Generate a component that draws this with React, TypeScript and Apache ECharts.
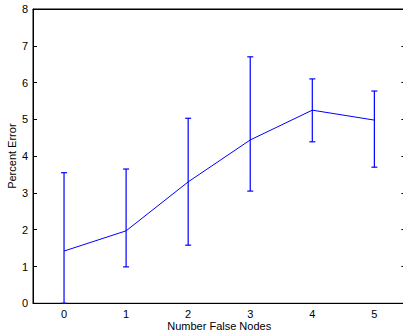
import React, { useEffect, useRef } from "react";
import * as echarts from "echarts";

const categories = ["0", "1", "2", "3", "4", "5"];
const meanError = [1.42, 1.97, 3.3, 4.44, 5.25, 4.98];
const lowerBound = [0.0, 0.99, 1.58, 3.05, 4.39, 3.7];
const upperBound = [3.55, 3.65, 5.03, 6.7, 6.1, 5.77];

const FONT = "Liberation Sans";
const BLUE = "#0000ff";

export default function App() {
  const ref = useRef<HTMLDivElement>(null);
  useEffect(() => {
    if (!ref.current) return;
    const chart = echarts.init(ref.current, null, { renderer: "svg" });
    const errData = categories.map((_, i) => [i, lowerBound[i], upperBound[i]]);
    const axisLineStyle = { lineStyle: { color: "#000", width: 1 } };
    const tickStyle = { inside: true, length: 4, lineStyle: { color: "#000" } };
    chart.setOption({
      animation: false,
      backgroundColor: "#fff",
      grid: {
        left: 33,
        top: 9,
        width: 372.4,
        height: 294.3,
        containLabel: false,
        outerBoundsMode: "none",
        show: true,
        borderColor: "#000",
        borderWidth: 1,
        backgroundColor: "transparent",
      },
      xAxis: [
        {
          type: "category",
          data: categories,
          boundaryGap: true,
          position: "bottom",
          axisLine: { show: true, onZero: false, ...axisLineStyle },
          axisTick: { ...tickStyle, alignWithLabel: true },
          axisLabel: { color: "#000", fontSize: 11, fontFamily: FONT, margin: 5 },
          name: "Number False Nodes",
          nameLocation: "middle",
          nameGap: 17,
          nameMoveOverlap: false,
          nameTextStyle: { color: "#000", fontSize: 11, fontFamily: FONT },
          splitLine: { show: false },
        },
        {
          type: "category",
          data: categories,
          boundaryGap: true,
          position: "top",
          axisLine: { show: true, onZero: false, ...axisLineStyle },
          axisTick: { ...tickStyle, alignWithLabel: true },
          axisLabel: { show: false },
          splitLine: { show: false },
        },
      ],
      yAxis: [
        {
          type: "value",
          min: 0,
          max: 8,
          interval: 1,
          position: "left",
          axisLine: { show: true, onZero: false, ...axisLineStyle },
          axisTick: { show: true, ...tickStyle },
          axisLabel: { color: "#000", fontSize: 11, fontFamily: FONT, margin: 5 },
          name: "Percent Error",
          nameLocation: "middle",
          nameRotate: 90,
          nameGap: 16,
          nameMoveOverlap: false,
          nameTextStyle: { color: "#000", fontSize: 11, fontFamily: FONT },
          splitLine: { show: false },
        },
        {
          type: "value",
          min: 0,
          max: 8,
          interval: 1,
          position: "right",
          axisLine: { show: true, onZero: false, ...axisLineStyle },
          axisTick: { show: true, ...tickStyle },
          axisLabel: { show: false },
          splitLine: { show: false },
        },
      ],
      series: [
        {
          type: "line",
          data: meanError,
          symbol: "none",
          lineStyle: { color: BLUE, width: 1 },
          z: 3,
        },
        {
          type: "custom",
          data: errData,
          z: 2,
          renderItem: (params: any, api: any) => {
            const idx = api.value(0);
            const lo = api.coord([idx, api.value(1)]);
            const hi = api.coord([idx, api.value(2)]);
            const hw = 3;
            const style = { stroke: BLUE, lineWidth: 1.2 };
            return {
              type: "group",
              children: [
                { type: "line", shape: { x1: lo[0], y1: lo[1], x2: hi[0], y2: hi[1] }, style },
                { type: "line", shape: { x1: lo[0] - hw, y1: lo[1], x2: lo[0] + hw, y2: lo[1] }, style },
                { type: "line", shape: { x1: hi[0] - hw, y1: hi[1], x2: hi[0] + hw, y2: hi[1] }, style },
              ],
            };
          },
        },
      ],
    });
    return () => chart.dispose();
  }, []);
  return (
    <div
      ref={ref}
      style={{ position: "fixed", left: 0, top: 0, width: 403, height: 335, background: "#fff" }}
    />
  );
}
